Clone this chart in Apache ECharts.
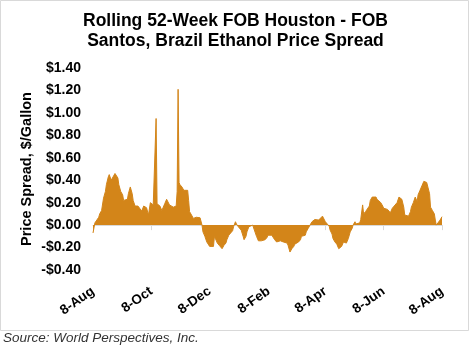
<!DOCTYPE html>
<html>
<head>
<meta charset="utf-8">
<script src="https://cdn.jsdelivr.net/npm/echarts@6/dist/echarts.min.js"></script>
<style>
html,body{margin:0;padding:0;background:#fff;}
#chart{width:471px;height:349px;}
</style>
</head>
<body>
<div id="chart"></div>
<script>
// Days since 8-Aug (start of rolling 52-week window)
const days = [0,1,2,4,6,7,9,11,13,14,16,17,19,20,21,23,24,26,27,29,31,32,34,36,37,39,41,42,44,46,47,49,51,53,54,56,58,60,61,63,65,66,67,68,70,72,73,75,77,79,80,82,84,86,87,88,89,90,91,92,93,95,97,99,100,101,103,105,107,108,110,112,
114,115,117,119,121,122,124,126,127,128,130,132,133,135,137,139,140,142,144,146,147,149,150,152,154,155,157,158,160,161,163,165,167,168,169,171,173,175,176,178,180,182,183,185,187,189,190,192,194,196,197,199,201,203,204,206,208,210,211,213,215,217,218,220,222,223,225,227,229,230,232,234,236,237,
240,243,245,247,248,250,251,253,255,257,258,260,262,264,265,267,269,271,272,274,275,277,279,280,282,283,285,287,289,290,292,294,296,297,299,301,303,304,306,308,310,311,313,315,317,318,320,321,323,325,326,328,330,332,333,335,337,339,340,342,344,346,347,349,351,352,353,355,357,358,359,361,363,365];
// Price spread, $/gallon
const spread = [-0.07,-0.06,0.02,0.045,0.07,0.10,0.13,0.24,0.30,0.36,0.43,0.45,0.40,0.39,0.40,0.46,0.47,0.42,0.36,0.30,0.27,0.22,0.22,0.23,0.28,0.34,0.28,0.22,0.17,0.165,0.17,0.165,0.125,0.17,0.17,0.155,0.09,0.20,0.195,0.18,0.17,0.95,0.19,0.19,0.17,0.13,0.14,0.19,0.23,0.22,0.18,0.17,0.16,0.16,0.17,0.30,1.21,0.38,0.36,0.36,0.34,0.31,0.32,0.31,0.22,0.12,0.09,0.06,0.06,0.07,0.075,0.065,
0.0,-0.06,-0.10,-0.15,-0.16,-0.19,-0.20,-0.19,-0.10,-0.10,-0.16,-0.18,-0.19,-0.21,-0.18,-0.16,-0.13,-0.09,-0.07,-0.05,-0.015,0.03,0.01,-0.015,-0.025,-0.045,-0.10,-0.13,-0.10,-0.06,-0.015,-0.01,0.0,0.01,-0.015,-0.10,-0.14,-0.14,-0.14,-0.15,-0.13,-0.11,-0.09,-0.08,-0.09,-0.10,-0.13,-0.15,-0.15,-0.14,-0.13,-0.15,-0.16,-0.16,-0.18,-0.24,-0.21,-0.19,-0.17,-0.16,-0.15,-0.13,-0.10,-0.10,-0.09,-0.06,-0.03,0.0,0.03,0.045,0.05,0.04,0.045,0.05,
0.08,0.03,0.01,-0.01,-0.045,-0.08,-0.12,-0.15,-0.17,-0.21,-0.22,-0.19,-0.15,-0.16,-0.16,-0.12,-0.06,-0.03,0.0,0.03,0.01,0.0,0.02,0.05,0.18,0.10,0.12,0.13,0.17,0.22,0.25,0.26,0.25,0.23,0.22,0.20,0.17,0.15,0.15,0.14,0.13,0.11,0.15,0.17,0.18,0.20,0.25,0.25,0.23,0.16,0.09,0.075,0.08,0.12,0.16,0.20,0.25,0.21,0.27,0.31,0.35,0.39,0.39,0.38,0.37,0.28,0.16,0.13,0.10,0.045,0.0,0.015,0.045,0.075];
const tickDays = [0,61,122,184,243,304,365];
const tickLabels = ['8-Aug','8-Oct','8-Dec','8-Feb','8-Apr','8-Jun','8-Aug'];

const FONT = '"Liberation Sans", Arial, sans-serif';
const AREA = '#D38519';
const chart = echarts.init(document.getElementById('chart'), null, {renderer:'canvas'});
chart.setOption({
  animation:false,
  backgroundColor:'#fff',
  title:{
    text:'Rolling 52-Week FOB Houston - FOB\nSantos, Brazil Ethanol Price Spread',
    left:'center', top:11, padding:0,
    textStyle:{fontFamily:FONT,fontSize:17.5,fontWeight:'bold',color:'#000',lineHeight:20}
  },
  graphic:[
    {type:'rect',shape:{x:0.5,y:0.5,width:468,height:330},style:{fill:null,stroke:'#d9d9d9',lineWidth:1},silent:true},
    {type:'text',left:3,top:331,style:{text:'Source: World Perspectives, Inc.',font:'italic 13.5px '+FONT,fill:'#333'}}
  ],
  grid:{left:93,right:29,top:68,bottom:79},
  xAxis:[
    {type:'value',min:0,max:365,position:'bottom',
     axisLine:{show:false,onZero:false},axisTick:{show:false},splitLine:{show:false},
     axisLabel:{customValues:tickDays,rotate:35,margin:20,
       formatter:v=>tickLabels[tickDays.indexOf(v)]||'',
       fontFamily:FONT,fontSize:13.5,fontWeight:'bold',color:'#000'}},
    {type:'value',min:0,max:365,position:'bottom',
     axisLine:{show:true,onZero:true,lineStyle:{color:'#d9d9d9',width:1}},
     axisTick:{show:true,customValues:tickDays,length:5,lineStyle:{color:'#d9d9d9'}},
     axisLabel:{show:false},splitLine:{show:false}}
  ],
  yAxis:{type:'value',min:-0.4,max:1.4,interval:0.2,
    name:'Price Spread, $/Gallon',nameLocation:'middle',nameGap:59,nameMoveOverlap:false,
    nameTextStyle:{fontFamily:FONT,fontSize:14.5,fontWeight:'bold',color:'#000'},
    axisLine:{show:false},axisTick:{show:false},splitLine:{show:false},
    axisLabel:{margin:12,fontFamily:FONT,fontSize:14,fontWeight:'bold',color:'#000',
      formatter:v=>{if(Math.abs(v)<1e-9)v=0;return (v<0?'-':'')+'$'+Math.abs(v).toFixed(2);}}
  },
  series:[{
    type:'line',xAxisIndex:0,
    data:days.map((d,i)=>[d,spread[i]]),
    showSymbol:false,
    lineStyle:{color:AREA,width:1},
    itemStyle:{color:AREA},
    areaStyle:{color:AREA,opacity:1}
  }]
});
</script>
</body>
</html>
